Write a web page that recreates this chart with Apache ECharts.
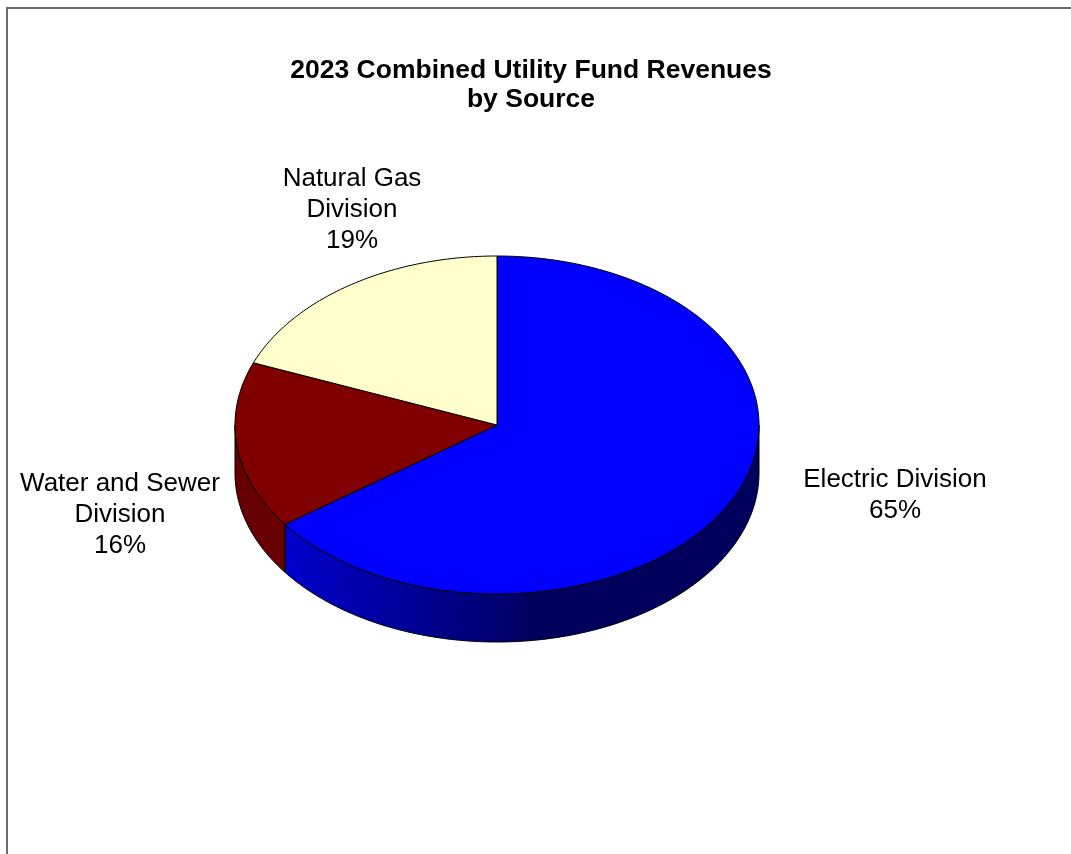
<!DOCTYPE html>
<html>
<head>
<meta charset="utf-8">
<script src="https://cdn.jsdelivr.net/npm/echarts@6/dist/echarts.min.js"></script>
<style>
  html, body { margin: 0; padding: 0; background: #fff; }
  #chart { width: 1071px; height: 854px; }
</style>
</head>
<body>
<div id="chart"></div>
<script>
// data
const categories = ['Electric Division', 'Water and Sewer\nDivision', 'Natural Gas\nDivision'];
const shares = [65, 16, 19];

// styles
const topColors = ['#0000FF', '#800000', '#FFFFCC'];
const sideColors = [
	['#0000CC', '#000066', '#00005C'],
	['#660000', '#700000', '#700000'],
	['#CCCC99', '#CCCC99', '#CCCC99']
];
// label anchors (center of the text block)
const labelPos = [[895, 495], [120, 515], [352, 210]];

// pie geometry (tilted ellipse)
const cx = 497, cy = 425, rx = 262, ry = 169, depth = 48;

const total = shares.reduce((a, b) => a + b, 0);
let acc = 0;
const startAngles = shares.map(v => { let s = acc; acc += v / total * 360; return s; });

function pt(deg, dy) {
	let r = deg * Math.PI / 180;
	return [cx + rx * Math.sin(r), cy - ry * Math.cos(r) + (dy || 0)];
}

function arcPoints(a0, a1, dy) {
	let pts = [];
	let n = Math.max(2, Math.ceil(Math.abs(a1 - a0) / 1));
	for (let k = 0; k <= n; k++) {
		pts.push(pt(a0 + (a1 - a0) * k / n, dy));
	}
	return pts;
}

function renderSide(params, api) {
	let i = params.dataIndex;
	let a0 = startAngles[i];
	let a1 = a0 + api.value(0) / total * 360;
	let s = Math.max(a0, 90), e = Math.min(a1, 270);
	if (e <= s) return null;
	let pts = arcPoints(s, e, 0).concat(arcPoints(e, s, depth));
	let x0 = pt(e)[0];
	return {
		type: 'polygon',
		shape: { points: pts },
		style: {
			fill: {
				type: 'linear', global: true,
				x: x0, y: 0, x2: x0 + 240, y2: 0,
				colorStops: [
					{ offset: 0, color: sideColors[i][0] },
					{ offset: 0.98, color: sideColors[i][1] },
					{ offset: 1, color: sideColors[i][2] }
				]
			},
			stroke: '#000', lineWidth: 1
		}
	};
}

function renderTop(params, api) {
	let i = params.dataIndex;
	let a0 = startAngles[i];
	let a1 = a0 + api.value(0) / total * 360;
	let pts = [[cx, cy]].concat(arcPoints(a0, a1, 0));
	return {
		type: 'group',
		children: [{
			type: 'polygon',
			shape: { points: pts },
			style: { fill: topColors[i], stroke: '#000', lineWidth: 1 }
		}, {
			type: 'text',
			x: labelPos[i][0], y: labelPos[i][1],
			style: {
				text: categories[i] + '\n' + api.value(0) + '%',
				font: '26px "Liberation Sans", Arial, sans-serif',
				lineHeight: 31,
				fill: '#000',
				align: 'center',
				verticalAlign: 'middle'
			}
		}]
	};
}

const pieData = categories.map((c, i) => ({ name: c, value: shares[i] }));

let mychart = echarts.init(document.getElementById('chart'));
let option = {
	animation: false,
	backgroundColor: '#fff',
	graphic: [{
		type: 'rect',
		shape: { x: 7, y: 8, width: 1100, height: 900 },
		style: { fill: null, stroke: '#6b6b6b', lineWidth: 2 }
	}, {
		type: 'text',
		x: 531, y: 56,
		style: {
			text: '2023 Combined Utility Fund Revenues\nby Source',
			font: 'bold 26.5px "Liberation Sans", Arial, sans-serif',
			lineHeight: 29,
			fill: '#000',
			align: 'center',
			verticalAlign: 'top'
		}
	}],
	series: [{
		type: 'custom',
		coordinateSystem: 'none',
		z: 1,
		silent: true,
		renderItem: renderSide,
		data: pieData
	}, {
		type: 'custom',
		coordinateSystem: 'none',
		z: 2,
		silent: true,
		renderItem: renderTop,
		data: pieData
	}]
};
mychart.setOption(option);
</script>
</body>
</html>
